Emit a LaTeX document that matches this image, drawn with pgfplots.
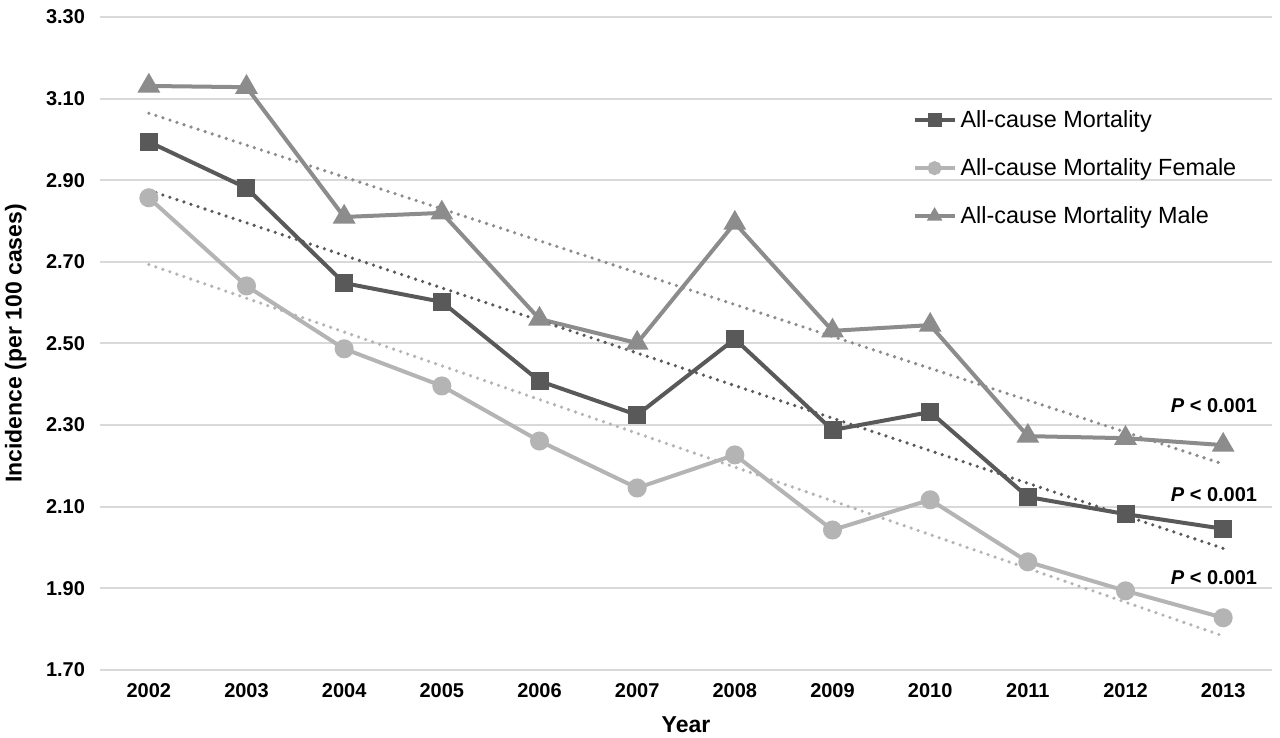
\documentclass[border=0pt]{standalone}
\usepackage{pgfplots}
\usepackage{pgfplotstable}
\pgfplotsset{compat=1.18}
\usepackage{fontspec}
\setmainfont{Liberation Sans}
\definecolor{cdark}{HTML}{595959}
\definecolor{clight}{HTML}{B4B4B4}
\definecolor{cmid}{HTML}{8C8C8C}
\definecolor{cgrid}{HTML}{D9D9D9}
\pgfplotstableread{
x a f m
0 2.994 2.857 3.131
1 2.881 2.641 3.128
2 2.648 2.487 2.810
3 2.602 2.396 2.820
4 2.408 2.261 2.560
5 2.325 2.146 2.501
6 2.511 2.227 2.795
7 2.288 2.043 2.531
8 2.332 2.117 2.545
9 2.124 1.965 2.273
10 2.082 1.894 2.268
11 2.046 1.828 2.251
}\data
\begin{document}
\begin{tikzpicture}
\useasboundingbox (-50pt,-34pt) rectangle (590pt,335pt);
\begin{axis}[
  at={(0,0)}, anchor=south west,
  scale only axis, width=586pt, height=326.5pt,
  xmin=-0.5, xmax=11.5, ymin=1.7, ymax=3.3,
  xtick={0,...,11},
  xticklabels={2002,2003,2004,2005,2006,2007,2008,2009,2010,2011,2012,2013},
  ytick={1.7,1.9,2.1,2.3,2.5,2.7,2.9,3.1,3.3},
  yticklabel style={/pgf/number format/fixed, /pgf/number format/fixed zerofill, /pgf/number format/precision=2, /pgf/number format/assume math mode=true, xshift=-4pt},
  ticklabel style={font=\bfseries\fontsize{10}{12}\selectfont},
  xticklabel style={yshift=-3pt},
  major tick length=0pt,
  axis line style={draw=none},
  ymajorgrids, grid style={cgrid, line width=1pt},
  xlabel={Year}, ylabel={Incidence (per 100 cases)},
  label style={font=\bfseries\fontsize{11.5}{13}\selectfont},
  xlabel style={at={(axis description cs:0.5,-0.084)}, anchor=center},
  ylabel style={at={(axis description cs:-0.072,0.5)}, anchor=center},
  legend style={at={(axis description cs:0.693,0.864)}, anchor=north west, draw=none, fill=none,
    font=\fontsize{11.7}{13}\selectfont, row sep=10pt, inner sep=0pt},
  legend cell align=left,
  legend image code/.code={\draw[mark repeat=2,mark phase=2,mark size=2.5pt] plot coordinates {(0pt,0pt) (10pt,0pt) (20pt,0pt)};},
  clip=false,
]
\addplot[cdark, line width=2pt, mark=square*, mark size=3.5pt, mark options={solid, fill=cdark}] table[x=x,y=a] {\data};
\addlegendentry{All-cause Mortality}
\addplot[clight, line width=2pt, mark=*, mark size=3.75pt, mark options={solid, fill=clight}] table[x=x,y=f] {\data};
\addlegendentry{All-cause Mortality Female}
\addplot[cmid, line width=2pt, mark=triangle*, mark size=4.6pt, mark options={solid, fill=cmid}] table[x=x,y=m] {\data};
\addlegendentry{All-cause Mortality Male}
\addplot[cmid, line width=1.8pt, line cap=round, dash pattern=on 0pt off 3.7pt, forget plot] table[x=x, y={create col/linear regression={y=m}}] {\data};
\addplot[cdark, line width=1.8pt, line cap=round, dash pattern=on 0pt off 3.7pt, forget plot] table[x=x, y={create col/linear regression={y=a}}] {\data};
\addplot[clight, line width=1.8pt, line cap=round, dash pattern=on 0pt off 3.7pt, forget plot] table[x=x, y={create col/linear regression={y=f}}] {\data};
\node[anchor=east, font=\bfseries\fontsize{10}{12}\selectfont] at (axis cs:11.42,2.349) {\textit{P} < 0.001};
\node[anchor=east, font=\bfseries\fontsize{10}{12}\selectfont] at (axis cs:11.42,2.129) {\textit{P} < 0.001};
\node[anchor=east, font=\bfseries\fontsize{10}{12}\selectfont] at (axis cs:11.42,1.926) {\textit{P} < 0.001};
\end{axis}
\end{tikzpicture}
\end{document}
